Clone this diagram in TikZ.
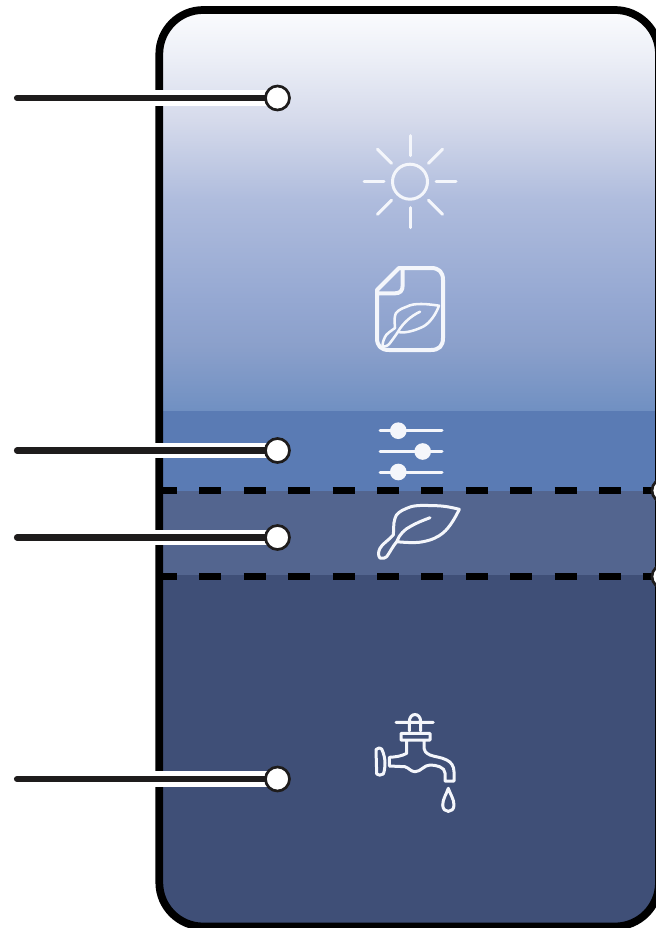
\documentclass[tikz,border=0pt]{standalone}
\usetikzlibrary{calc}
\definecolor{gA}{HTML}{FBFCFE}
\definecolor{gB}{HTML}{EBEEF6}
\definecolor{gC}{HTML}{D5DAEB}
\definecolor{gD}{HTML}{AFBCDD}
\definecolor{gE}{HTML}{95A8D2}
\definecolor{gF}{HTML}{8BA0CB}
\definecolor{gG}{HTML}{7090C2}
\definecolor{bandA}{HTML}{5A7BB4}
\definecolor{bandB}{HTML}{53658F}
\definecolor{bandC}{HTML}{3F4F77}
\definecolor{lead}{HTML}{1E1C1C}
\definecolor{iconw}{HTML}{F4F6FB}
\pgfdeclareverticalshading{skyshade}{100bp}{
  color(0bp)=(gG); color(25bp)=(gG); color(33.1bp)=(gF); color(38.7bp)=(gE); color(51bp)=(gD); color(60.8bp)=(gC); color(68.2bp)=(gB); color(74.4bp)=(gA); color(100bp)=(gA)}
\tikzset{
  x=0.75pt,y=-0.75pt,
  icon/.style={draw=iconw,line width=2.25pt,line cap=round,line join=round,fill=none},
  leader/.style={draw=lead,line width=4.6pt,line cap=round},
  halo/.style={draw=white,line width=11.5pt},
  dot/.style={circle,draw=lead,fill=white,line width=2pt,minimum size=18pt,inner sep=0pt},
  knob/.style={circle,fill=iconw,draw=none,minimum size=12.5pt,inner sep=0pt},
  divider/.style={draw=black,line width=5.2pt,dash pattern=on 16.5pt off 16.8pt,dash phase=1.5pt},
}
\begin{document}
\begin{tikzpicture}
\useasboundingbox (0,0) rectangle (656,928);
\fill[white] (0,0) rectangle (656,928);
\begin{scope}
\clip[rounded corners=33pt] (159,10) rectangle (659,926.5);
\shade[shading=skyshade] (150,5) rectangle (665,411);
\fill[bandA] (150,411) rectangle (665,491);
\fill[bandB] (150,491) rectangle (665,575);
\fill[bandC] (150,575) rectangle (665,930);
\end{scope}
\coordinate (d1l) at (157,490.5); \coordinate (d2l) at (157,576.5);
\coordinate (d1r) at (664,490.5); \coordinate (d2r) at (664,576.5);
\draw[divider] (d1l) -- (d1r);
\draw[divider] (d2l) -- (d2r);
\draw[line width=5.8pt,rounded corners=33pt] (159.3,10) rectangle (659,926.5);
\node[dot] (e1) at (d1r) {}; \node[dot] (e2) at (d2r) {};
% leaders
\foreach \n/\yy in {a/98,b/450.5,c/537.5,d/779}{
  \coordinate (\n0) at (17,\yy);
  \coordinate (\n1) at (277.5,\yy);
  \draw[halo] ($(\n0)+(138,0)$) -- (\n1);
  \draw[leader] (\n0) -- (\n1);
  \node[dot] (\n) at (\n1) {};
}
% sun
\draw[icon] (410,181.7) circle (17.5);
\foreach \a in {0,45,...,315}{
  \draw[icon] ($(410,181.7)+(\a:26)$) -- ($(410,181.7)+(\a:46)$);
}
% document
\draw[icon,line width=3pt] (399,268) -- (431,268) .. controls (439,268) and (443,272) .. (443,280)
  -- (443,338) .. controls (443,346) and (439,350) .. (431,350) -- (389,350)
  .. controls (381,350) and (377,346) .. (377,338) -- (377,290) -- (399,268)
  (402.7,268) -- (402.7,285) .. controls (402.7,291) and (400,293.3) .. (395,293.3) -- (377,293.3);
\draw[icon,line width=1.9pt] (439,305.7) .. controls (428,304) and (414,302.5) .. (406.7,306.7)
  .. controls (400,309) and (395,312) .. (395,316) .. controls (394,320) and (395,325) .. (395,328)
  .. controls (391,331) and (386,334) .. (385,337) .. controls (383,341) and (382,345) .. (383,346.7)
  .. controls (385,346.5) and (388,346) .. (390,343) .. controls (393,339) and (396,335) .. (398,331.7)
  .. controls (402,333.5) and (412,332) .. (423,326.7) .. controls (430,323) and (436,314) .. (439,305.7) -- cycle
  (398,331.7) .. controls (403,323) and (411,316) .. (420,311.7);
% sliders
\foreach \yy/\xx in {430.7/398.3,451.5/422.7,472/398.3}{
  \draw[icon] (380,\yy) -- (442,\yy);
  \node[knob] at (\xx,\yy) {};
}
% leaf
\draw[icon] (459.3,509.3) .. controls (450,507) and (442,505.5) .. (433,505.7)
  .. controls (420,505) and (412,505.5) .. (406.7,508.3) .. controls (400,511) and (396,514) .. (395,518.3)
  .. controls (393,524) and (394,530) .. (393.3,535) .. controls (389,540) and (382,544) .. (380,548.3)
  .. controls (378,552) and (378,556) .. (380,558) .. controls (383,559) and (385,558) .. (386.7,556.7)
  .. controls (390,552) and (393,546) .. (396.7,541.7) .. controls (400,542) and (415,543.5) .. (423,541.7)
  .. controls (432,540) and (438,537) .. (443,533) .. controls (450,527) and (455,518) .. (459.3,509.3) -- cycle
  (397,541) .. controls (399,535) and (405,529) .. (410,526.7) .. controls (416,523) and (424,520) .. (430,517.7);
% tap
\draw[icon] (396,722.3) -- (433.3,722.3)
  (409.3,730.7) -- (409.3,722) .. controls (409.3,712) and (420.7,712) .. (420.7,722) -- (420.7,730.7)
  (401,733.3) -- (430,733.3) -- (430,740) -- (401,740) -- cycle
  (406.7,740) -- (406.7,753.3) .. controls (402,756) and (396,757) .. (389.3,757.3)
  -- (389.3,766) -- (405,766.7) .. controls (409,768) and (411,771.7) .. (415,771.7)
  .. controls (421,771.7) and (424,765) .. (430,765) .. controls (436,765) and (445,767) .. (445,773) -- (445,781) -- (454,781) -- (454,771.7)
  .. controls (454,766) and (451,762) .. (446.7,760) .. controls (441,757) and (435,757) .. (430,755)
  .. controls (426,753) and (424,751) .. (424,748.3) -- (424,740)
  (376,749.5) .. controls (378,747.5) and (380.5,747.5) .. (381.7,749) .. controls (384,754) and (385,759) .. (385,763)
  .. controls (385,767) and (384.5,771) .. (383.3,774) .. controls (381,775.5) and (378,775.5) .. (376.7,774) -- cycle
  (448.3,788.3) .. controls (446.5,794) and (442.7,799) .. (442.7,805) .. controls (442.7,813.5) and (454,813.5) .. (454,805)
  .. controls (454,799) and (450.1,794) .. (448.3,788.3) -- cycle;
\end{tikzpicture}
\end{document}
